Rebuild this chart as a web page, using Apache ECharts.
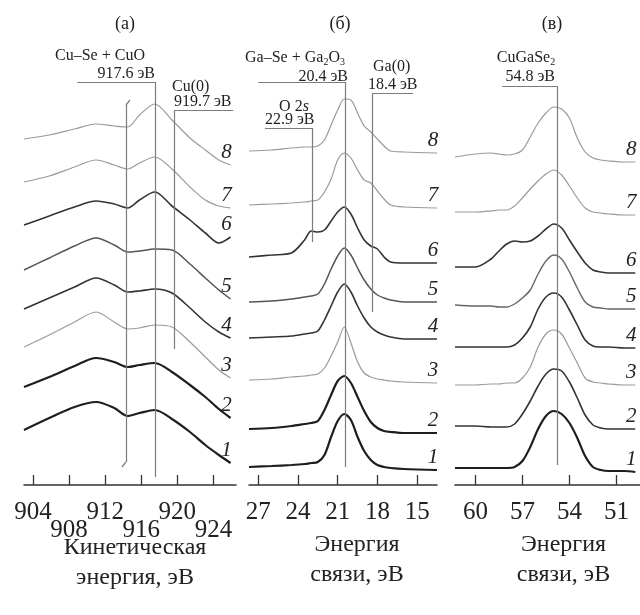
<!DOCTYPE html>
<html>
<head>
<meta charset="utf-8">
<script src="https://cdn.jsdelivr.net/npm/echarts@6/dist/echarts.min.js"></script>
<style>html,body{margin:0;background:#fff}#chart{width:640px;height:615px}</style>
</head>
<body>
<div id="chart"></div>
<script>
// (а) Cu LMM, kinetic energy; rows = spectra 1..8 (bottom to top, already offset)
const cuEnergy = [903, 905.8, 908.6, 911, 913, 914.5, 915.8, 917.5, 919.4, 921.4, 923.1, 924.6, 925.9];
const cuLMM = [
  [55, 67, 78, 83, 77, 69, 72, 75, 66, 53, 40, 30, 22],
  [98, 108, 119, 127, 123, 118, 120, 122, 113, 100, 88, 76, 67],
  [138, 150, 163, 173, 163, 156, 157, 160, 158, 143, 128, 115, 107],
  [176, 187, 198, 207, 200, 193, 194, 196, 192, 177, 163, 153, 147],
  [215, 227, 239, 247, 240, 233, 234, 236, 235, 221, 207, 195, 186],
  [260, 269, 278, 284, 281, 277, 285, 293, 279, 265, 252, 242, 248],
  [303, 309, 318, 325, 320, 316, 322, 328, 316, 298, 285, 279, 277],
  [346, 350, 356, 361, 359, 358, 370, 381, 365, 347, 335, 325, 320]
];
// (б) Ga 3d + O 2s, binding energy
const gaEnergy = [27.7, 26.0, 24.5, 23.5, 23.0, 22.5, 22.0, 21.5, 21.0, 20.5, 20.0, 19.5, 19.0, 18.5, 18.0, 17.5, 17.0, 16.0, 13.5];
const ga3d = [
  [18, 19, 20, 21, 22, 23, 30, 48, 64, 71, 65, 48, 34, 25, 20, 18, 17, 16, 15],
  [56, 57, 59, 61, 62, 64, 75, 90, 104, 109, 102, 88, 74, 63, 57, 54, 53, 52, 52],
  [105, 106, 108, 109, 110, 111, 117, 129, 143, 158, 142, 123, 112, 108, 106, 105, 104, 103, 102],
  [147, 148, 149, 151, 152, 154, 165, 179, 193, 201, 193, 179, 167, 158, 153, 150, 148, 146, 146],
  [183, 184, 186, 188, 189, 191, 201, 216, 229, 237, 230, 217, 205, 196, 190, 187, 185, 183, 183],
  [228, 230, 232, 245, 254, 253, 255, 264, 273, 278, 271, 257, 245, 239, 236, 228, 223, 222, 222],
  [280, 281, 282, 283, 284, 285, 293, 306, 325, 332, 327, 315, 305, 302, 294, 286, 280, 278, 277],
  [334, 335, 337, 338, 338, 339, 345, 360, 375, 386, 385, 372, 359, 353, 346, 339, 334, 333, 332]
];
// (в) Se 3d, binding energy
const seEnergy = [61.3, 60.0, 59.0, 58.5, 58.0, 57.5, 57.0, 56.5, 56.0, 55.5, 55.0, 54.5, 54.0, 53.5, 53.0, 52.5, 52.0, 51.5, 50.5, 49.8];
const se3d = [
  [17, 17, 17, 17, 17, 18, 24, 38, 56, 69, 74, 71, 62, 47, 29, 18, 15, 14, 14, 13],
  [59, 59, 58, 58, 58, 61, 71, 84, 99, 111, 116, 114, 103, 87, 70, 60, 57, 56, 56, 56],
  [100, 100, 101, 101, 102, 102, 107, 118, 138, 151, 155, 151, 137, 122, 107, 103, 102, 101, 100, 100],
  [138, 138, 138, 138, 138, 140, 147, 158, 176, 188, 192, 188, 175, 160, 145, 139, 138, 138, 137, 137],
  [180, 179, 179, 178, 178, 181, 187, 195, 211, 224, 230, 226, 213, 197, 183, 178, 177, 176, 176, 176],
  [218, 218, 226, 234, 241, 244, 243, 244, 249, 256, 261, 257, 245, 233, 222, 215, 213, 212, 212, 212],
  [273, 273, 274, 275, 275, 279, 287, 296, 304, 311, 315, 310, 299, 287, 277, 273, 272, 271, 270, 270],
  [328, 331, 332, 331, 330, 331, 335, 348, 362, 372, 378, 376, 367, 347, 333, 327, 325, 324, 323, 323]
];

const cuTicks = [904, 908, 912, 916, 920, 924];
const cuLabelsTop = [904, 912, 920];
const cuLabelsLow = [908, 916, 924];
const gaTicks = [27, 24, 21, 18, 15];
const seTicks = [60, 57, 54, 51];

const cuPeaks = [917.6, 919.7];
const cuPeakNames = ['Cu–Se + CuO', 'Cu(0)'];
const gaPeaks = [20.4, 18.4, 22.9];
const gaPeakNames = ['Ga–Se + Ga{s|2}O{s|3}', 'Ga(0)', 'O 2{i|s}'];
const sePeaks = [54.8];
const sePeakNames = ['CuGaSe{s|2}'];

const SERIF = '"Liberation Serif", "DejaVu Serif", serif';
const LIGHT = {color: '#9a9a9a', width: 1.2};
const DARK = {color: '#333', width: 1.6};
const MID = {color: '#555', width: 1.5};
const BOLD = {color: '#1e1e1e', width: 2.2};
const cuStyles = [BOLD, BOLD, LIGHT, DARK, MID, DARK, LIGHT, LIGHT];
const gaStyles = [BOLD, BOLD, LIGHT, DARK, MID, DARK, LIGHT, LIGHT];
const seStyles = [BOLD, DARK, LIGHT, DARK, {color: '#666', width: 1.4}, DARK, LIGHT, LIGHT];

function seg(x1, y1, x2, y2) {
  return [{coord: [x1, y1]}, {coord: [x2, y2]}];
}

function spectra(gi, energy, rows, styles, marks) {
  return rows.map((row, i) => {
    const last = energy.length - 1;
    const s = {
      type: 'line',
      name: gi + '-' + (i + 1),
      xAxisIndex: gi,
      yAxisIndex: gi,
      data: energy.map((e, k) => [e, row[k]]),
      smooth: 0.3,
      symbol: 'none',
      silent: true,
      lineStyle: styles[i],
      markPoint: {
        symbol: 'circle',
        symbolSize: 0,
        silent: true,
        data: [{coord: [energy[last], row[last]]}],
        label: {
          show: true,
          formatter: String(i + 1),
          position: 'top',
          distance: 2,
          offset: [-4, 0],
          fontFamily: SERIF,
          fontStyle: 'italic',
          fontSize: 21,
          color: '#222'
        }
      }
    };
    if (i === 0) {
      s.markLine = {
        silent: true,
        symbol: ['none', 'none'],
        label: {show: false},
        lineStyle: {color: '#7c7c7c', width: 1.2, type: 'solid'},
        data: marks
      };
    }
    return s;
  });
}

function xAxisFor(gi, min, max, inverse, ticks, labels, name, shift, gap) {
  return {
    gridIndex: gi,
    type: 'value',
    min: min,
    max: max,
    inverse: inverse,
    splitLine: {show: false},
    axisLine: {lineStyle: {color: '#333', width: 1.5}},
    axisTick: {inside: true, length: 10, customValues: ticks, lineStyle: {color: '#333', width: 1.3}},
    axisLabel: {
      customValues: labels,
      showMinLabel: true,
      showMaxLabel: true,
      margin: 18,
      lineHeight: 18,
      fontFamily: SERIF,
      fontSize: 25,
      color: '#222'
    },
    name: name,
    nameLocation: 'middle',
    nameGap: gap,
    nameMoveOverlap: false,
    nameTextStyle: {fontFamily: SERIF, fontSize: 24, lineHeight: 30, color: '#222', padding: [0, 0, 0, shift]}
  };
}

// second label row of panel (а) lives on its own bare axis
const cuLowAxis = {
  gridIndex: 3, type: 'value', min: 903, max: 926.5,
  splitLine: {show: false}, axisLine: {show: false}, axisTick: {show: false},
  axisLabel: {
    customValues: cuLabelsLow, showMinLabel: true, showMaxLabel: true,
    margin: 36, lineHeight: 18, fontFamily: SERIF, fontSize: 25, color: '#222'
  }
};

const cuMarks = [
  seg(908.9, 403, cuPeaks[0], 403), seg(cuPeaks[0], 403, cuPeaks[0], 8),
  seg(cuPeaks[1], 375, 926.2, 375), seg(cuPeaks[1], 375, cuPeaks[1], 136),
  seg(914.3, 380, 914.3, 23), seg(914.3, 380, 914.75, 385), seg(914.3, 23, 913.85, 18)
];
const gaMarks = [
  seg(27.0, 403, gaPeaks[0], 403), seg(gaPeaks[0], 403, gaPeaks[0], 18),
  seg(gaPeaks[1], 392, 15.3, 392), seg(gaPeaks[1], 392, gaPeaks[1], 173),
  seg(26.5, 357, gaPeaks[2], 357), seg(gaPeaks[2], 357, gaPeaks[2], 243)
];
const seMarks = [
  seg(58.3, 399, sePeaks[0], 399), seg(sePeaks[0], 399, sePeaks[0], 20)
];

function txt(x, y, text, align, size) {
  return {
    type: 'text', x: x, y: y, silent: true,
    style: {
      text: text, align: align, verticalAlign: 'middle',
      fontFamily: SERIF, fontSize: size || 16, fill: '#222',
      rich: {
        s: {fontFamily: SERIF, fontSize: 10, fill: '#222', padding: [9, 0, 0, 0]},
        i: {fontFamily: SERIF, fontSize: 16, fontStyle: 'italic', fill: '#222'}
      }
    }
  };
}
const ev = v => v.toFixed(1) + ' эВ';

const chart = echarts.init(document.getElementById('chart'), null, {renderer: 'canvas'});
chart.setOption({
  animation: false,
  backgroundColor: '#fff',
  grid: [
    {left: 24, right: 404, top: 40, bottom: 130},
    {left: 249, right: 203, top: 40, bottom: 130},
    {left: 455, right: 0, top: 40, bottom: 130},
    {left: 24, right: 404, top: 40, bottom: 130}
  ],
  xAxis: [
    xAxisFor(0, 903, 926.5, false, cuTicks, cuLabelsTop, 'Кинетическая\nэнергия, эВ', 10, 48),
    xAxisFor(1, 13.5, 27.7, true, gaTicks, gaTicks, 'Энергия\nсвязи, эВ', 28, 45),
    xAxisFor(2, 49.5, 61.3, true, seTicks, seTicks, 'Энергия\nсвязи, эВ', 32, 45),
    cuLowAxis
  ],
  yAxis: [0, 1, 2, 3].map(gi => ({gridIndex: gi, type: 'value', min: 0, max: 445, show: false})),
  series: [].concat(
    spectra(0, cuEnergy, cuLMM, cuStyles, cuMarks),
    spectra(1, gaEnergy, ga3d, gaStyles, gaMarks),
    spectra(2, seEnergy, se3d, seStyles, seMarks)
  ),
  graphic: [
    txt(125, 24, '(а)', 'center', 18),
    txt(340, 24, '(б)', 'center', 18),
    txt(552, 24, '(в)', 'center', 18),
    txt(100, 56, cuPeakNames[0], 'center'),
    txt(155, 74, ev(cuPeaks[0]), 'right'),
    txt(172, 87, cuPeakNames[1], 'left'),
    txt(174, 102, ev(cuPeaks[1]), 'left'),
    txt(295, 58, gaPeakNames[0], 'center'),
    txt(348, 77, ev(gaPeaks[0]), 'right'),
    txt(373, 67, gaPeakNames[1], 'left'),
    txt(368, 85, ev(gaPeaks[1]), 'left'),
    txt(294, 107, gaPeakNames[2], 'center'),
    txt(265, 120, ev(gaPeaks[2]), 'left'),
    txt(526, 58, sePeakNames[0], 'center'),
    txt(555, 77, ev(sePeaks[0]), 'right')
  ]
});
</script>
</body>
</html>
